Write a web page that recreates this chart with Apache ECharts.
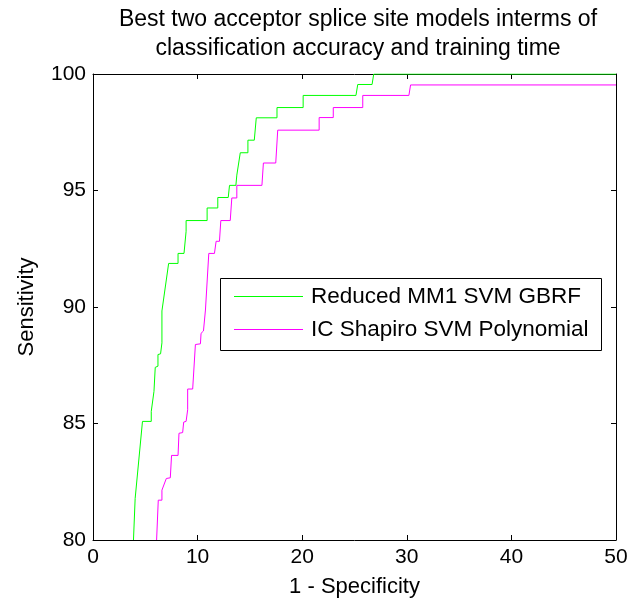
<!DOCTYPE html>
<html>
<head>
<meta charset="utf-8">
<script src="https://cdn.jsdelivr.net/npm/echarts@6/dist/echarts.min.js"></script>
<style>html,body{margin:0;padding:0;background:#fff}#c{width:632px;height:599px}</style>
</head>
<body>
<div id="c"></div>
<script>
var titleText = 'Best two acceptor splice site models interms of\nclassification accuracy and training time';
var xName = '1 - Specificity';
var yName = 'Sensitivity';
var seriesNames = ['Reduced MM1 SVM GBRF', 'IC Shapiro SVM Polynomial'];
var xTicks = [0, 10, 20, 30, 40, 50];
var yTicks = [80, 85, 90, 95, 100];

var greenCurve = [
  [3.87,80],[4.03,81.78],[4.73,85.09],[5.57,85.09],[5.57,85.52],[5.83,86.38],[5.95,87.41],
  [6.21,87.46],[6.21,87.96],[6.46,87.99],[6.59,88.46],[6.59,89.83],[6.78,89.86],[7.23,91.87],
  [8.13,91.87],[8.13,92.30],[8.70,92.30],[8.90,93.25],[8.90,93.71],[10.91,93.71],[10.91,94.25],
  [11.93,94.25],[11.93,94.70],[12.93,94.70],[13.05,95.22],[13.66,95.22],[13.75,95.66],[14.08,96.62],
  [14.81,96.62],[14.81,97.16],[15.42,97.16],[15.61,98.12],[17.59,98.12],[17.59,98.56],[20.09,98.56],
  [20.09,99.08],[25.14,99.08],[25.31,99.55],[26.68,99.55],[26.84,100],[50,100]
];
var magentaCurve = [
  [6.08,80],[6.24,81.71],[6.59,81.71],[6.59,82.14],[6.78,82.14],[7.01,82.64],[7.39,82.67],
  [7.51,83.63],[8.13,83.63],[8.22,84.58],[8.57,84.61],[8.67,85.06],[8.90,85.09],[9.05,85.59],
  [9.05,86.48],[9.53,86.48],[9.79,88.39],[10.27,88.42],[10.33,88.87],[10.56,88.97],[10.75,89.87],
  [10.85,89.90],[11.07,92.30],[11.61,92.30],[11.77,92.82],[12.09,92.82],[12.22,93.71],[13.12,93.71],
  [13.27,94.68],[13.75,94.68],[13.75,95.22],[16.15,95.22],[16.29,96.18],[17.47,96.18],[17.66,97.59],
  [21.62,97.59],[21.62,98.13],[22.97,98.13],[22.97,98.56],[25.79,98.56],[25.79,99.08],[30.20,99.08],
  [30.36,99.53],[50,99.53]
];

var FONT = '"Liberation Sans", Arial, Helvetica, sans-serif';
var chart = echarts.init(document.getElementById('c'));
function axisCommon(show) {
  return {
    axisLine: {show: true, onZero: false, lineStyle: {color: '#000', width: 1}},
    axisTick: {show: true, inside: true, length: 5, lineStyle: {color: '#000'}},
    axisLabel: {show: show, color: '#000', fontSize: 21, fontFamily: FONT, margin: 7},
    splitLine: {show: false}
  };
}
var option = {
  animation: false,
  backgroundColor: '#fff',
  title: {
    text: titleText,
    left: 353, top: 0, textAlign: 'center',
    textStyle: {fontSize: 23, fontWeight: 'normal', color: '#000', fontFamily: FONT, lineHeight: 29}
  },
  grid: {left: 93, right: 16, top: 74, bottom: 59, containLabel: false, outerBoundsMode: 'none'},
  xAxis: [
    Object.assign({type: 'value', min: xTicks[0], max: xTicks[xTicks.length-1], interval: 10, position: 'bottom',
      name: xName, nameLocation: 'middle', nameGap: 36,
      nameTextStyle: {fontSize: 22, color: '#000', fontFamily: FONT}}, axisCommon(true)),
    Object.assign({type: 'value', min: 0, max: 50, interval: 10, position: 'top'}, axisCommon(false))
  ],
  yAxis: [
    Object.assign({type: 'value', min: yTicks[0], max: yTicks[yTicks.length-1], interval: 5, position: 'left',
      name: yName, nameLocation: 'middle', nameGap: 55,
      nameTextStyle: {fontSize: 22, color: '#000', fontFamily: FONT}}, axisCommon(true)),
    Object.assign({type: 'value', min: 80, max: 100, interval: 5, position: 'right'}, axisCommon(false))
  ],
  legend: {
    orient: 'vertical', left: 234, top: 285,
    icon: 'rect', itemWidth: 69, itemHeight: 1, itemGap: 10, padding: 0,
    textStyle: {fontSize: 22.5, color: '#000', fontFamily: FONT, lineHeight: 22, padding: [0, 0, 0, 3]},
    data: seriesNames
  },
  graphic: [{
    type: 'rect', left: 220, top: 278, z: 100, silent: true,
    shape: {width: 381, height: 72},
    style: {fill: 'rgba(0,0,0,0)', stroke: '#000', lineWidth: 1}
  }],
  series: [
    {name: seriesNames[0], type: 'line', data: greenCurve, symbol: 'none', clip: true,
     lineStyle: {color: '#00ff00', width: 1}, itemStyle: {color: '#00ff00'}},
    {name: seriesNames[1], type: 'line', data: magentaCurve, symbol: 'none', clip: true,
     lineStyle: {color: '#ff00ff', width: 1}, itemStyle: {color: '#ff00ff'}}
  ]
};
chart.setOption(option);
</script>
</body>
</html>
